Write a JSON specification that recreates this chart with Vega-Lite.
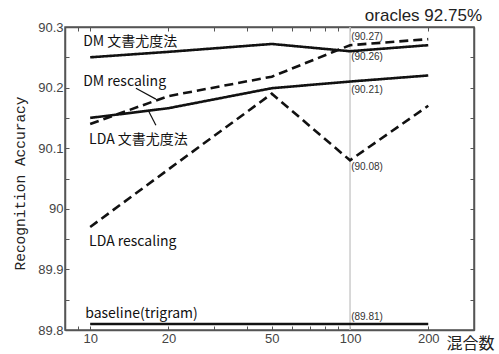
{
  "$schema": "https://vega.github.io/schema/vega-lite/v6.json",
  "width": 409,
  "height": 303,
  "autosize": {"type": "none"},
  "padding": {"left": 65, "top": 27, "right": 25, "bottom": 24},
  "background": "white",
  "config": {
    "view": {"stroke": "#555", "strokeWidth": 1.5},
    "axis": {"grid": false, "domainColor": "#555", "tickColor": "#555", "labelFont": "Liberation Sans", "labelFontSize": 13, "labelColor": "#444", "domainWidth": 1.5, "tickWidth": 1}
  },
  "resolve": {"scale": {"x": "independent", "y": "independent"}},
  "datasets": {
    "lines": [
      {"series": "DM 文書尤度法", "style": "solid", "n": 10, "acc": 90.25},
      {"series": "DM 文書尤度法", "style": "solid", "n": 20, "acc": 90.259},
      {"series": "DM 文書尤度法", "style": "solid", "n": 50, "acc": 90.272},
      {"series": "DM 文書尤度法", "style": "solid", "n": 100, "acc": 90.26},
      {"series": "DM 文書尤度法", "style": "solid", "n": 200, "acc": 90.27},
      {"series": "DM rescaling", "style": "dashed", "n": 10, "acc": 90.14},
      {"series": "DM rescaling", "style": "dashed", "n": 20, "acc": 90.186},
      {"series": "DM rescaling", "style": "dashed", "n": 50, "acc": 90.218},
      {"series": "DM rescaling", "style": "dashed", "n": 100, "acc": 90.27},
      {"series": "DM rescaling", "style": "dashed", "n": 200, "acc": 90.28},
      {"series": "LDA 文書尤度法", "style": "solid", "n": 10, "acc": 90.15},
      {"series": "LDA 文書尤度法", "style": "solid", "n": 20, "acc": 90.166},
      {"series": "LDA 文書尤度法", "style": "solid", "n": 50, "acc": 90.199},
      {"series": "LDA 文書尤度法", "style": "solid", "n": 100, "acc": 90.21},
      {"series": "LDA 文書尤度法", "style": "solid", "n": 200, "acc": 90.22},
      {"series": "LDA rescaling", "style": "dashed", "n": 10, "acc": 89.97},
      {"series": "LDA rescaling", "style": "dashed", "n": 20, "acc": 90.065},
      {"series": "LDA rescaling", "style": "dashed", "n": 50, "acc": 90.19},
      {"series": "LDA rescaling", "style": "dashed", "n": 100, "acc": 90.08},
      {"series": "LDA rescaling", "style": "dashed", "n": 200, "acc": 90.17},
      {"series": "baseline(trigram)", "style": "solid", "n": 10, "acc": 89.81},
      {"series": "baseline(trigram)", "style": "solid", "n": 20, "acc": 89.81},
      {"series": "baseline(trigram)", "style": "solid", "n": 50, "acc": 89.81},
      {"series": "baseline(trigram)", "style": "solid", "n": 100, "acc": 89.81},
      {"series": "baseline(trigram)", "style": "solid", "n": 200, "acc": 89.81}
    ],
    "names": [
      {"label": "DM 文書尤度法", "n": 9.4, "acc": 90.275},
      {"label": "DM rescaling", "n": 9.4, "acc": 90.21},
      {"label": "LDA 文書尤度法", "n": 9.9, "acc": 90.113},
      {"label": "LDA rescaling", "n": 9.9, "acc": 89.946},
      {"label": "baseline(trigram)", "n": 9.57, "acc": 89.827}
    ],
    "values": [
      {"label": "(90.27)", "n": 101, "acc": 90.284},
      {"label": "(90.26)", "n": 101, "acc": 90.25},
      {"label": "(90.21)", "n": 101, "acc": 90.196},
      {"label": "(90.08)", "n": 101, "acc": 90.069},
      {"label": "(89.81)", "n": 101, "acc": 89.821}
    ],
    "leaders": [
      {"n": 15.0, "acc": 90.199, "n2": 17.9, "acc2": 90.181},
      {"n": 16.7, "acc": 90.163, "n2": 17.9, "acc2": 90.138}
    ],
    "oracle": [
      {"label": "oracles 92.75%", "n": 300, "acc": 90.31}
    ]
  },
  "layer": [
    {
      "data": {"name": "leaders"},
      "mark": {"type": "rule", "color": "#111", "strokeWidth": 1.2},
      "encoding": {
        "x": {"field": "n", "type": "quantitative", "scale": {"type": "log", "domain": [8, 300]},
          "axis": {"orient": "bottom", "values": [8, 9, 10, 20, 30, 40, 50, 60, 70, 80, 90, 100, 200, 300], "labelExpr": "indexof([10, 20, 50, 100, 200], datum.value) >= 0 ? format(datum.value, 'd') : ''", "tickSize": -4, "labelPadding": 6, "labelFlush": false, "labelOverlap": false,
            "title": "混合数", "titleFont": "Noto Sans CJK JP", "titleFontSize": 16, "titleFontWeight": "normal", "titleColor": "#222", "titleX": 381, "titleY": 13, "titleAlign": "left", "titleBaseline": "middle"}},
        "x2": {"field": "n2"},
        "y": {"field": "acc", "type": "quantitative", "scale": {"domain": [89.8, 90.3], "zero": false, "nice": false},
          "axis": {"orient": "left", "values": [89.8, 89.85, 89.9, 89.95, 90, 90.05, 90.1, 90.15, 90.2, 90.25, 90.3], "labelExpr": "round(datum.value * 100) % 10 == 0 ? format(datum.value, '.3~f') : ''", "tickSize": -4, "labelPadding": 6, "labelOverlap": false, "labelFlush": false,
            "title": "Recognition Accuracy", "titleFont": "Liberation Mono", "titleFontSize": 14.5, "titleFontWeight": "normal", "titleColor": "#222", "titleX": -45, "titleY": 156, "titleAlign": "center", "titleBaseline": "middle", "titleAngle": -90}},
        "y2": {"field": "acc2"}
      }
    },
    {
      "data": {"values": [{"n": 100}]},
      "mark": {"type": "rule", "color": "#cccccc", "strokeWidth": 1.5},
      "encoding": {
        "x": {"field": "n", "type": "quantitative", "scale": {"type": "log", "domain": [8, 300]},
          "axis": {"orient": "top", "values": [8, 9, 10, 20, 30, 40, 50, 60, 70, 80, 90, 100, 200, 300], "labelOpacity": 0, "labelFontSize": 1, "labelPadding": 0, "labelOverlap": true, "tickSize": -4, "title": null}}
      }
    },
    {
      "data": {"name": "lines"},
      "mark": {"type": "line", "color": "#111", "strokeWidth": 2.6},
      "encoding": {
        "x": {"field": "n", "type": "quantitative", "scale": {"type": "log", "domain": [8, 300]}, "axis": null},
        "y": {"field": "acc", "type": "quantitative", "scale": {"domain": [89.8, 90.3], "zero": false, "nice": false},
          "axis": {"orient": "right", "values": [89.8, 89.85, 89.9, 89.95, 90, 90.05, 90.1, 90.15, 90.2, 90.25, 90.3], "labelOpacity": 0, "labelFontSize": 1, "labelPadding": 0, "labelOverlap": true, "tickSize": -4, "title": null}},
        "strokeDash": {"field": "style", "type": "nominal", "scale": {"domain": ["solid", "dashed"], "range": [[1, 0], [9, 5]]}, "legend": null},
        "detail": {"field": "series"}
      }
    },
    {
      "data": {"name": "names"},
      "mark": {"type": "text", "align": "left", "baseline": "middle", "font": "Noto Sans CJK JP", "fontSize": 14, "color": "#111"},
      "encoding": {
        "x": {"field": "n", "type": "quantitative", "scale": {"type": "log", "domain": [8, 300]}, "axis": null},
        "y": {"field": "acc", "type": "quantitative", "scale": {"domain": [89.8, 90.3], "zero": false, "nice": false}, "axis": null},
        "text": {"field": "label"}
      }
    },
    {
      "data": {"name": "values"},
      "mark": {"type": "text", "align": "left", "baseline": "middle", "font": "Liberation Sans", "fontSize": 10, "color": "#333"},
      "encoding": {
        "x": {"field": "n", "type": "quantitative", "scale": {"type": "log", "domain": [8, 300]}, "axis": null},
        "y": {"field": "acc", "type": "quantitative", "scale": {"domain": [89.8, 90.3], "zero": false, "nice": false}, "axis": null},
        "text": {"field": "label"}
      }
    },
    {
      "data": {"name": "oracle"},
      "mark": {"type": "text", "align": "right", "baseline": "alphabetic", "dx": 8, "font": "Liberation Sans", "fontSize": 17, "color": "#222"},
      "encoding": {
        "x": {"field": "n", "type": "quantitative", "scale": {"type": "log", "domain": [8, 300]}, "axis": null},
        "y": {"field": "acc", "type": "quantitative", "scale": {"domain": [89.8, 90.3], "zero": false, "nice": false}, "axis": null},
        "text": {"field": "label"}
      }
    }
  ]
}
